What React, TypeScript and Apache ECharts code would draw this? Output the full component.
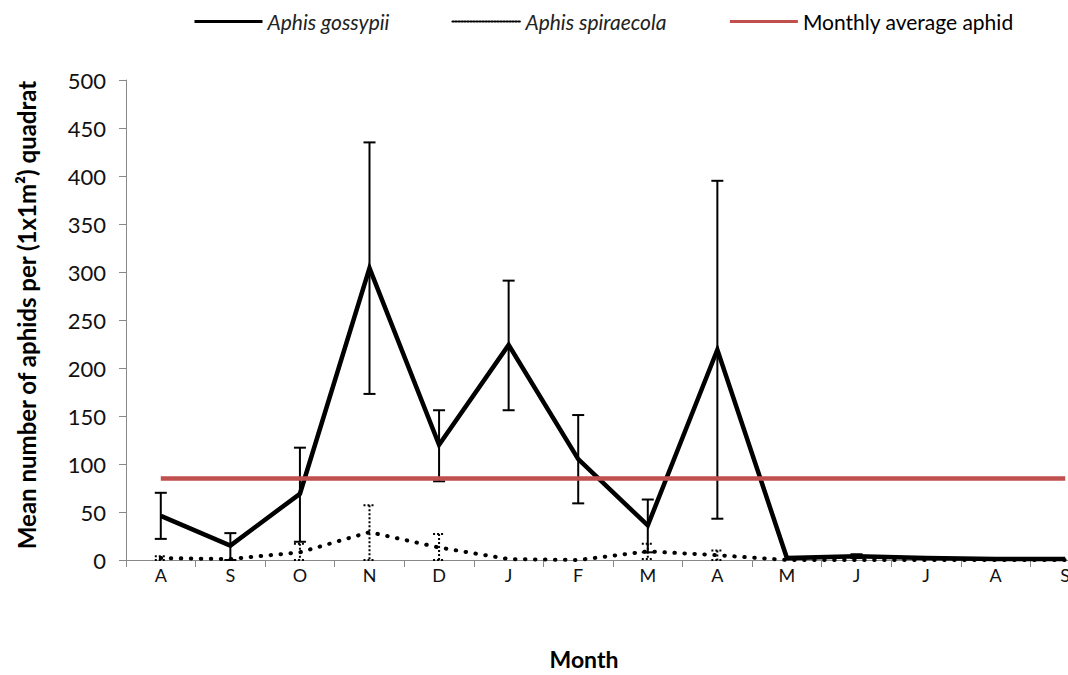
import React, { useEffect, useRef } from "react";
import * as echarts from "echarts";

const months = ["A", "S", "O", "N", "D", "J", "F", "M", "A", "M", "J", "J", "A", "S"];
const gossypii = [46, 15, 69, 304, 120, 224, 105, 36, 219, 2, 4, 2, 1, 1];
const gossypiiUpper = [70, 28, 117, 435, 156, 291, 151, 63, 395, null, 6, null, null, null];
const gossypiiLower = [22, 0, 19, 173, 82, 156, 59, 8, 43, null, 2, null, null, null];
const spiraecola = [2, 1, 8, 29, 13, 1, 0, 9, 5, 0, 0, 0, 0, 0];
const spiraecolaUpper = [4, null, 17, 57, 27, null, null, 17, 10, null, null, null, null, null];
const spiraecolaLower = [0, null, 0, 0, 0, null, null, 1, 0, null, null, null, null, null];
const monthlyAverage = [85, 85, 85, 85, 85, 85, 85, 85, 85, 85, 85, 85, 85, 85];

const FONT = "Lato, 'Liberation Sans', sans-serif";

function errorData(up: (number | null)[], lo: (number | null)[]) {
  const out: any[] = [];
  up.forEach((u, i) => {
    if (u !== null && lo[i] !== null) out.push([i, lo[i], u]);
  });
  return out;
}

function makeRender(dashed: boolean) {
  return (params: any, api: any) => {
    const x = api.value(0);
    const lo = api.coord([x, api.value(1)]);
    const hi = api.coord([x, api.value(2)]);
    const w = 6;
    const style: any = { stroke: "#000", lineWidth: 2, fill: "none" };
    if (dashed) style.lineDash = [2, 2];
    return {
      type: "group",
      children: [
        { type: "line", shape: { x1: hi[0], y1: hi[1], x2: lo[0], y2: lo[1] }, style },
        { type: "line", shape: { x1: hi[0] - w, y1: hi[1], x2: hi[0] + w, y2: hi[1] }, style },
        { type: "line", shape: { x1: lo[0] - w, y1: lo[1], x2: lo[0] + w, y2: lo[1] }, style },
      ],
    };
  };
}

export default function App() {
  const ref = useRef<HTMLDivElement>(null);
  useEffect(() => {
    if (!ref.current) return;
    const chart = echarts.init(ref.current, null, { renderer: "svg" });
    chart.setOption({
      animation: false,
      backgroundColor: "#fff",
      textStyle: { fontFamily: FONT },
      legend: {
        left: 193,
        top: 11,
        padding: 0,
        itemWidth: 68,
        itemHeight: 14,
        itemGap: 62,
        itemStyle: { color: "transparent", borderColor: "transparent", borderWidth: 0, opacity: 0 },
        lineStyle: { width: 3 },
        textStyle: { fontFamily: FONT, fontSize: 21, color: "#000" },
        data: [
          { name: "Aphis gossypii", textStyle: { fontStyle: "italic", color: "#222" } },
          { name: "Aphis spiraecola", textStyle: { fontStyle: "italic", color: "#222" }, lineStyle: { width: 2, type: [1.5, 1.5] } },
          { name: "Monthly average aphid" },
        ],
      },
      grid: { left: 126, right: 0, top: 80, bottom: 108 },
      xAxis: {
        type: "category",
        data: months,
        boundaryGap: true,
        name: "Month",
        nameLocation: "middle",
        nameGap: 87,
        nameTextStyle: { fontFamily: FONT, fontSize: 23, fontWeight: "bold", color: "#000", padding: [0, 58, 0, 0] },
        axisLine: { lineStyle: { color: "#888", width: 1 } },
        axisTick: { show: true, interval: 0, length: 7, lineStyle: { color: "#888" } },
        axisLabel: { color: "#111", fontSize: 18, margin: 6, fontFamily: FONT },
        splitLine: { show: false },
      },
      yAxis: {
        type: "value",
        min: 0,
        max: 500,
        interval: 50,
        name: "Mean number of aphids per (1x1m²) quadrat",
        nameLocation: "middle",
        nameGap: 88,
        nameTextStyle: { fontFamily: FONT, fontSize: 24, fontWeight: "bold", color: "#000", padding: [0, 0, 0, 10] },
        axisLine: { show: true, lineStyle: { color: "#888", width: 1 } },
        axisTick: { show: true, length: 7, lineStyle: { color: "#888" } },
        axisLabel: { color: "#111", fontSize: 22, margin: 20, fontFamily: FONT },
        splitLine: { show: false },
      },
      series: [
        {
          name: "Aphis gossypii",
          type: "line",
          data: gossypii,
          symbol: "none",
          itemStyle: { color: "#000" },
          lineStyle: { color: "#000", width: 4.5, join: "miter" },
          z: 3,
        },
        {
          name: "Aphis spiraecola",
          type: "line",
          data: spiraecola,
          symbol: "none",
          itemStyle: { color: "#000" },
          lineStyle: { color: "#000", width: 4, type: [0.5, 9.5], cap: "round" },
          z: 3,
        },
        {
          name: "gossypii-err",
          type: "custom",
          data: errorData(gossypiiUpper, gossypiiLower),
          renderItem: makeRender(false),
          encode: { x: 0, y: [1, 2] },
          z: 4,
        },
        {
          name: "spiraecola-err",
          type: "custom",
          data: errorData(spiraecolaUpper, spiraecolaLower),
          renderItem: makeRender(true),
          encode: { x: 0, y: [1, 2] },
          z: 4,
        },
        {
          name: "Monthly average aphid",
          type: "line",
          data: monthlyAverage,
          symbol: "none",
          itemStyle: { color: "#C0504D" },
          lineStyle: { color: "#C0504D", width: 4.5 },
          z: 5,
        },
      ],
    });
    return () => chart.dispose();
  }, []);
  return (
    <div style={{ position: "fixed", left: 0, top: 0, width: 1068, height: 675, overflow: "hidden", background: "#fff" }}>
      <div ref={ref} style={{ width: 1100, height: 675 }} />
    </div>
  );
}
